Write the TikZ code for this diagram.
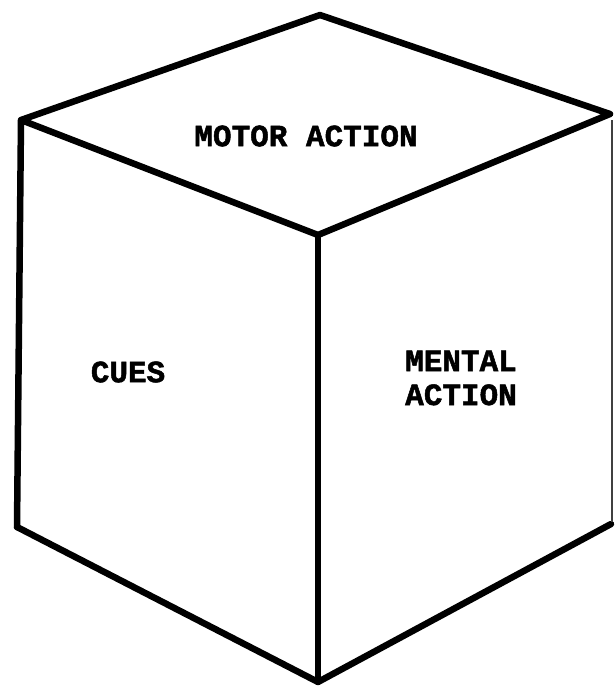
\documentclass[tikz,border=0pt]{standalone}
\usepackage{fontspec}
\setmonofont{Liberation Mono}[BoldFeatures={FakeBold=1.6}]
\begin{document}
\begin{tikzpicture}[x=1pt,y=-1pt,
  edge/.style={line width=6.5pt,line join=round,line cap=round},
  label/.style={font=\ttfamily\bfseries\fontsize{31}{34}\selectfont,align=center,inner sep=0pt}]
\useasboundingbox (0,0) rectangle (614,689);
\coordinate (T) at (320,15);
\coordinate (LT) at (21,120);
\coordinate (RT) at (610,114);
\coordinate (C) at (318,235);
\coordinate (LB) at (17,527);
\coordinate (B) at (318,682);
\coordinate (RB) at (611,524);
\draw[edge] (LB) -- (LT) -- (T) -- (RT) -- (C) -- (LT);
\draw[edge] (C) -- (B);
\draw[edge] (LB) -- (B) -- (RB);
\draw[line width=1.5pt,black!75] (612,120) -- (612,522);
\node[label] (motor) at (306,136) {MOTOR ACTION};
\node[label] (cues) at (128,372) {CUES};
\node[label] (mental) at (461,378) {MENTAL\\ACTION};
\end{tikzpicture}
\end{document}
